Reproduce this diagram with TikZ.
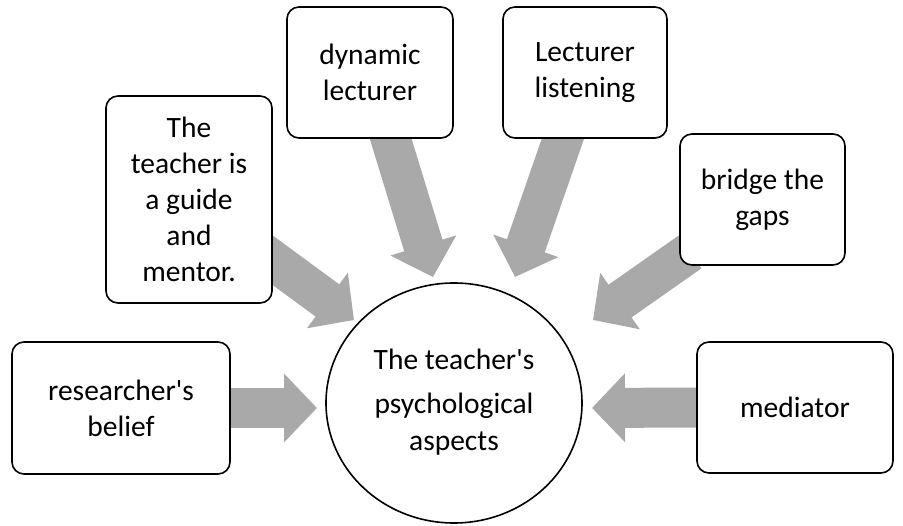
\documentclass[tikz,border=0pt]{standalone}
\usepackage{fontspec}
\setmainfont{Carlito}
\usetikzlibrary{shapes.geometric,arrows.meta,backgrounds}
\definecolor{arrowgray}{HTML}{A9A9A9}
\newcommand{\sq}{\textquotesingle}
\begin{document}
\begin{tikzpicture}[x=1pt,y=-1pt,
  box/.style={draw=black,line width=1.6pt,rounded corners=12pt,fill=white,align=center,inner sep=0pt,font=\fontsize{29.5}{36}\selectfont},
  hub/.style={draw=black,line width=1.6pt,ellipse,fill=white,align=center,inner sep=0pt,minimum width=256pt,minimum height=240pt,font=\fontsize{29.5}{37}\selectfont},
  bigarrow/.style={draw=arrowgray,line width=40pt,-{Triangle[width=67pt,length=33pt]}}]
\useasboundingbox (0,0) rectangle (903,526);

\node[hub] (hub) at (454,403) {\raisebox{-4pt}{\begin{tabular}{@{}c@{}}The teacher\sq s\\[7pt]psychological\\aspects\end{tabular}}};
\node[box,minimum width=218pt,minimum height=132pt] (belief) at (121,408) {researcher\sq s\\belief};
\node[box,minimum width=166pt,minimum height=207pt] (mentor) at (189,199.5) {The\\teacher is\\a guide\\and\\mentor.};
\node[box,minimum width=166pt,minimum height=131pt] (dyn) at (370,72.5) {dynamic\\lecturer};
\node[box,minimum width=164pt,minimum height=131pt] (listen) at (585,72.5) {Lecturer\\listening};
\node[box,minimum width=165pt,minimum height=131pt] (bridge) at (762.5,199.5) {bridge the\\gaps};
\node[box,minimum width=196pt,minimum height=131pt] (mediator) at (795,407.5) {mediator};

\begin{scope}[on background layer]
\draw[bigarrow] (belief.east) -- ([shift={(-137,5)}]hub.center);
\draw[bigarrow] (mediator.west) -- ([shift={(138,5)}]hub.center);
\draw[bigarrow] ([shift={(17,-12)}]dyn.south) -- ([shift={(-21,-126)}]hub.center);
\draw[bigarrow] ([shift={(-18,-12)}]listen.south) -- ([shift={(61,-126)}]hub.center);
\draw[bigarrow] ([shift={(67,48.5)}]mentor.center) -- ([shift={(-100,-83)}]hub.center);
\draw[bigarrow] ([shift={(-72.5,52.5)}]bridge.center) -- ([shift={(139,-83)}]hub.center);
\end{scope}
\end{tikzpicture}
\end{document}
